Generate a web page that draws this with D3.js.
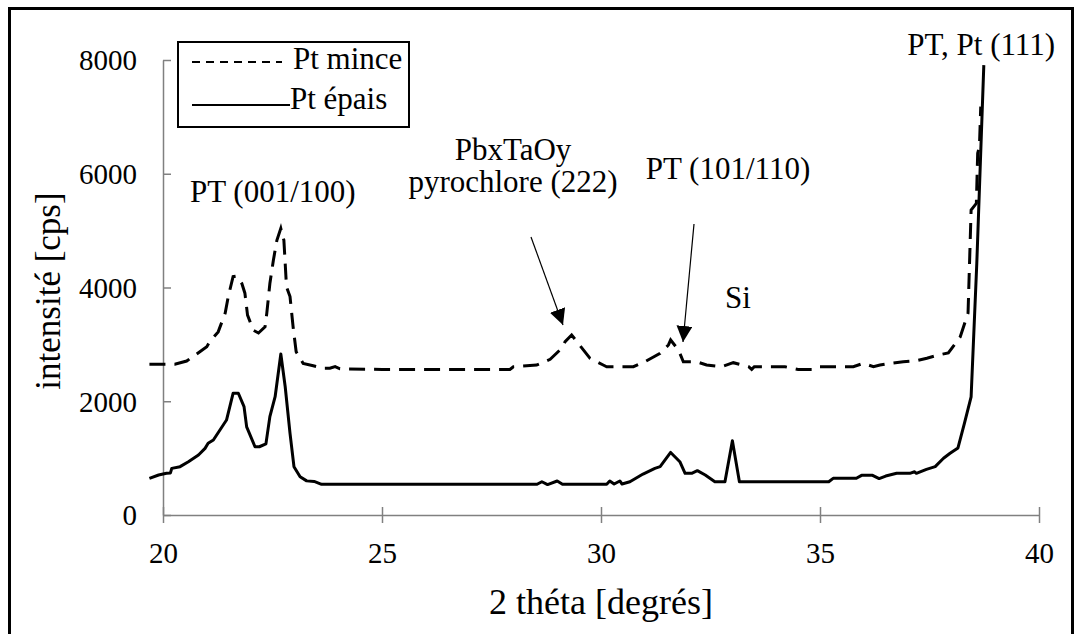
<!DOCTYPE html>
<meta charset="utf-8">
<style>
body { margin: 0; background: #fff; }
svg text { font-family: "Liberation Serif", Times, serif !important; }
</style>
<svg width="1081" height="634"></svg>
<script src="https://cdn.jsdelivr.net/npm/d3@7"></script>
<script>

// Pt mince (dashed)
var minceTheta = [19.69, 20.27, 20.54, 20.73, 21.0, 21.07, 21.26, 21.42, 21.49, 21.6, 21.68, 21.8, 21.87, 21.93,
  22.06, 22.18, 22.33, 22.37, 22.44, 22.52, 22.6, 22.69, 22.76, 22.82, 22.9, 22.97, 23.04, 23.2, 23.43,
  23.66, 23.81, 23.93, 24.04, 25.0, 27.92, 28.0, 28.53, 28.84, 29.1, 29.18, 29.33, 29.48, 29.75, 30.05,
  30.13, 30.74, 31.0, 31.35, 31.54, 31.59, 31.77, 31.88, 32.18, 32.41, 32.75, 33.02, 33.37, 33.44, 33.5,
  34.2, 34.5, 34.88, 35.0, 35.76, 35.99, 36.22, 36.37, 36.6, 36.9, 37.2, 37.44, 37.7, 37.93, 38.2, 38.38,
  38.45, 38.57, 38.6, 38.64, 38.67];
var minceCps = [2650, 2650, 2707, 2810, 2960, 3050, 3220, 3550, 3840, 4190, 4200, 4070, 3900, 3515,
  3250, 3200, 3310, 3550, 4070, 4480, 4830, 5040, 4830, 4010, 3840, 3310, 2870, 2665, 2625,
  2580, 2580, 2610, 2570, 2560, 2560, 2607, 2637, 2737, 2930, 3047, 3164, 3018, 2755, 2637,
  2607, 2607, 2695, 2842, 2990, 3077, 2900, 2695, 2695, 2637, 2607, 2678, 2607, 2560, 2607,
  2607, 2560, 2560, 2607, 2607, 2667, 2607, 2637, 2667, 2695, 2713, 2755, 2813, 2850, 3130, 3550,
  5360, 5480, 6360, 6475, 7180];

// Pt épais (solid)
var epaisTheta = [19.69, 19.9, 20.08, 20.17, 20.2, 20.39, 20.58, 20.81, 20.96, 21.03, 21.15, 21.3, 21.45,
  21.6, 21.72, 21.85, 21.91, 22.1, 22.2, 22.35, 22.44, 22.56, 22.69, 22.79, 22.9, 22.99, 23.13, 23.28,
  23.45, 23.62, 28.54, 28.65, 28.78, 29.0, 29.12, 30.13, 30.2, 30.3, 30.43, 30.48, 30.66, 30.96, 31.23,
  31.35, 31.59, 31.8, 31.92, 32.07, 32.2, 32.38, 32.6, 32.83, 33.0, 33.16, 35.2, 35.3, 35.83, 35.95,
  36.2, 36.35, 36.5, 36.75, 37.05, 37.16, 37.2, 37.43, 37.63, 37.82, 37.97, 38.15, 38.3, 38.45, 38.58, 38.74];
var epaisCps = [645, 703, 733, 740, 820, 850, 937, 1055, 1172, 1260, 1318, 1495, 1670,
  2140, 2140, 1905, 1550, 1200, 1200, 1250, 1730, 2080, 2830, 2255, 1435, 850, 673, 600,
  590, 540, 540, 585, 535, 598, 540, 540, 598, 545, 598, 545, 585, 720, 820,
  850, 1100, 937, 733, 733, 780, 703, 585, 585, 1307, 585, 585, 645, 645, 697,
  697, 640, 685, 733, 733, 760, 733, 803, 850, 997, 1085, 1180, 1620, 2075, 4430, 7910];

var xTicks = [20, 25, 30, 35, 40];
var yTicks = [0, 2000, 4000, 6000, 8000];

var seriesNames = ["Pt mince", "Pt épais"];

var annotations = [
  {text: "PT (001/100)", x: 190, y: 202, anchor: "start"},
  {text: "PbxTaOy", x: 513, y: 160, anchor: "middle"},
  {text: "pyrochlore (222)", x: 513, y: 192, anchor: "middle"},
  {text: "PT (101/110)", x: 728, y: 179, anchor: "middle"},
  {text: "Si", x: 725, y: 308, anchor: "start"},
  {text: "PT, Pt (111)", x: 1055, y: 55, anchor: "end"}
];

var svg = d3.select("svg");

var x = d3.scaleLinear().domain([20, 40]).range([163, 1039]);
var y = d3.scaleLinear().domain([0, 8000]).range([515, 60]);

// outer frame
svg.append("rect")
    .attr("x", 9.5).attr("y", 8.5)
    .attr("width", 1063).attr("height", 660)
    .attr("fill", "none")
    .attr("stroke", "#000")
    .attr("stroke-width", 3);

// axes
var xAxis = svg.append("g")
    .attr("transform", "translate(0," + y(0) + ")")
    .call(d3.axisBottom(x).tickValues(xTicks).tickSize(8).tickSizeOuter(0).tickFormat(d3.format("d")));
xAxis.attr("font-family", null).attr("font-size", 29);
xAxis.selectAll("path, line").attr("stroke", "#808080").attr("stroke-width", 1.5);
xAxis.selectAll(".tick line").attr("y1", -8);
xAxis.selectAll(".tick text").attr("y", 48).attr("dy", 0).attr("fill", "#000");

var yAxis = svg.append("g")
    .attr("transform", "translate(" + x(20) + ",0)")
    .call(d3.axisLeft(y).tickValues(yTicks).tickSize(8).tickSizeOuter(0).tickFormat(d3.format("d")));
yAxis.attr("font-family", null).attr("font-size", 29);
yAxis.selectAll("path, line").attr("stroke", "#808080").attr("stroke-width", 1.5);
yAxis.selectAll(".tick line").attr("x2", 8);
yAxis.selectAll(".tick text").attr("x", -26).attr("dy", "0.34em").attr("fill", "#000");

// axis titles
svg.append("text")
    .attr("x", 601).attr("y", 614)
    .attr("text-anchor", "middle")
    .attr("font-size", 36)
    .text("2 théta [degrés]");

svg.append("text")
    .attr("transform", "translate(60,291) rotate(-90)")
    .attr("text-anchor", "middle")
    .attr("font-size", 35)
    .text("intensité [cps]");

// lines
var line = d3.line()
    .x(function(d) { return x(d[0]); })
    .y(function(d) { return y(d[1]); });

var mince = d3.zip(minceTheta, minceCps);
var epais = d3.zip(epaisTheta, epaisCps);

svg.append("path")
    .datum(mince)
    .attr("fill", "none")
    .attr("stroke", "#000")
    .attr("stroke-width", 3)
    .attr("stroke-dasharray", "16,9")
    .attr("d", line);

svg.append("path")
    .datum(epais)
    .attr("fill", "none")
    .attr("stroke", "#000")
    .attr("stroke-width", 3)
    .attr("stroke-linejoin", "round")
    .attr("d", line);

// annotations
svg.selectAll(".annot")
  .data(annotations)
  .enter().append("text")
    .attr("class", "annot")
    .attr("x", function(d) { return d.x; })
    .attr("y", function(d) { return d.y; })
    .attr("text-anchor", function(d) { return d.anchor; })
    .attr("font-size", 31)
    .text(function(d) { return d.text; });

// arrows
svg.append("defs").append("marker")
    .attr("id", "arrow")
    .attr("viewBox", "0 0 10 10")
    .attr("refX", 10).attr("refY", 5)
    .attr("markerWidth", 16).attr("markerHeight", 16)
    .attr("markerUnits", "userSpaceOnUse")
    .attr("orient", "auto")
  .append("path")
    .attr("d", "M0,0L10,5L0,10z")
    .attr("fill", "#000");

var arrows = [[531, 237, 563, 325], [694, 224, 683, 342]];
svg.selectAll(".arrow")
  .data(arrows)
  .enter().append("line")
    .attr("x1", function(d) { return d[0]; })
    .attr("y1", function(d) { return d[1]; })
    .attr("x2", function(d) { return d[2]; })
    .attr("y2", function(d) { return d[3]; })
    .attr("stroke", "#000")
    .attr("stroke-width", 1.2)
    .attr("marker-end", "url(#arrow)");

// legend
var legend = svg.append("g");
legend.append("rect")
    .attr("x", 178).attr("y", 42)
    .attr("width", 231).attr("height", 85)
    .attr("fill", "#fff")
    .attr("stroke", "#000")
    .attr("stroke-width", 2);

legend.append("line")
    .attr("x1", 192).attr("x2", 282).attr("y1", 62).attr("y2", 62)
    .attr("stroke", "#000").attr("stroke-width", 2)
    .attr("stroke-dasharray", "8,6");
legend.append("text")
    .attr("x", 293).attr("y", 69)
    .attr("font-size", 31)
    .text(seriesNames[0]);

legend.append("line")
    .attr("x1", 192).attr("x2", 290).attr("y1", 105).attr("y2", 105)
    .attr("stroke", "#000").attr("stroke-width", 2);
legend.append("text")
    .attr("x", 290).attr("y", 109)
    .attr("font-size", 31)
    .text(seriesNames[1]);

</script>
